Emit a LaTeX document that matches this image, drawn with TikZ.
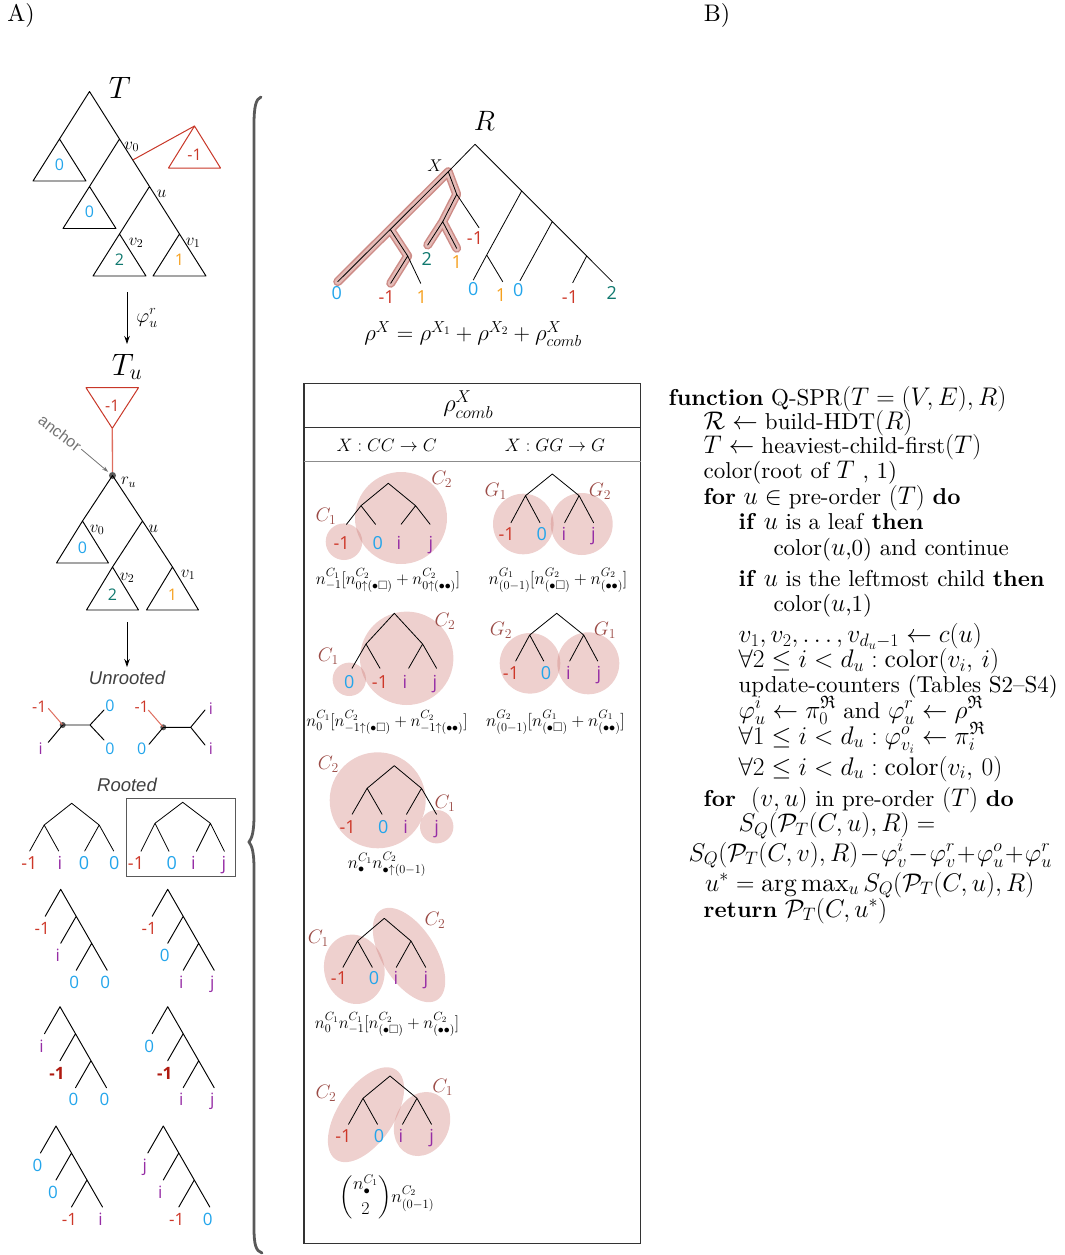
\RequirePackage{fix-cm}
\documentclass[tikz,border=0pt]{standalone}
\usepackage{amsmath,amssymb}
\usepackage{fontspec}
\setmainfont{lmroman10-regular.otf}[BoldFont=lmroman10-bold.otf,ItalicFont=lmroman10-italic.otf,BoldItalicFont=lmroman10-bolditalic.otf]
\newfontfamily\labfont{Open Sans}
\newfontfamily\helv{Liberation Sans}
\DeclareMathSizes{23}{25.5}{18}{13}
\usetikzlibrary{arrows.meta}
\definecolor{cneg}{RGB}{205,55,40}
\definecolor{cnegd}{RGB}{175,25,15}
\definecolor{czero}{RGB}{35,165,235}
\definecolor{cij}{RGB}{150,45,165}
\definecolor{cone}{RGB}{245,160,30}
\definecolor{ctwo}{RGB}{15,120,110}
\definecolor{cclab}{RGB}{155,75,70}
\definecolor{cblob}{RGB}{205,120,115}
\definecolor{chlo}{RGB}{205,140,135}
\definecolor{chli}{RGB}{228,186,182}
\definecolor{cred}{RGB}{200,55,40}
\definecolor{credl}{RGB}{222,110,95}
\newcommand\LMo{\textcolor{cneg}{-1}}
\newcommand\LMoB{\textcolor{cnegd}{\bfseries -1}}
\newcommand\LZe{\textcolor{czero}{0}}
\newcommand\LIi{\textcolor{cij}{i}}
\newcommand\LJj{\textcolor{cij}{j}}
\newcommand\LOne{\textcolor{cone}{1}}
\newcommand\LTwo{\textcolor{ctwo}{2}}
\tikzset{
  tl/.style={line width=0.95pt, line cap=round, line join=round},
  tt/.style={line width=0.8pt, line cap=round, line join=round},
  redl/.style={cred, line width=1pt, line join=round},
  L/.style={font=\labfont\fontsize{#1}{#1}\selectfont, anchor=base, yshift={-0.36*#1}, inner sep=0pt},
  M/.style={font=\fontsize{#1}{#1}\selectfont, inner sep=0pt},
  cl/.style={M=19.5, text=cclab},
  blob/.style={fill=cblob, fill opacity=0.35, draw=none},
  arr/.style={line width=0.9pt, -{Stealth[length=8pt,width=5.5pt]}},
  alg/.style={font=\fontsize{23}{25}\selectfont, anchor=base west, inner sep=0pt},
}
\newcounter{lbc}
\newcommand\lb[3]{\stepcounter{lbc}\node[L=#1] (lb\thelbc) at #2 {#3};}
\newcommand\btree[7]{%
  \path (#2,#3) coordinate (#1r) +(-#4,#5) coordinate (#1a) +(#4,#5) coordinate (#1b);
  \path (#1a) +(-#6,#7) coordinate (#1p) +(#6,#7) coordinate (#1q);
  \path (#1b) +(-#6,#7) coordinate (#1s) +(#6,#7) coordinate (#1t);
  \draw[tt] (#1p) -- (#1a) -- (#1r) -- (#1b) -- (#1t) (#1a) -- (#1q) (#1b) -- (#1s);}
\newcommand\cater[7]{%
  \path (#2,#3) coordinate (#1r) +(-15.5,27) coordinate (#1p) +(15.5,27) coordinate (#1m)
     +(0,54) coordinate (#1q) +(31,54) coordinate (#1n) +(15.5,81) coordinate (#1s) +(46.5,81) coordinate (#1t);
  \draw[tl] (#1p) -- (#1r) -- (#1m) -- (#1n) -- (#1t) (#1m) -- (#1q) (#1n) -- (#1s);
  \lb{17}{([shift={(-3,12.5)}]#1p)}{#4}
  \lb{17}{([shift={(-3,12.5)}]#1q)}{#5}
  \lb{17}{([shift={(-2,12)}]#1s)}{#6}
  \lb{17}{([shift={(-2,12)}]#1t)}{#7}}
\begin{document}
\begin{tikzpicture}[x=1pt,y=-1pt]
\useasboundingbox (0,0) rectangle (1065,1255);
\node[M=24] (labA) at (21,16) {A)};
\node[M=24] (labB) at (717,16) {B)};

% ---------- tree T
\node[M=31] (Tlab) at (120,88) {$T$};
\path (89.5,91.5) coordinate (Tr) (59.5,139) coordinate (Ta) (119.5,139) coordinate (Tv0)
  (89.5,186.5) coordinate (Tb) (149.5,186.5) coordinate (Tu) (119.5,234) coordinate (Tv2)
  (179.5,234) coordinate (Tv1) (132.8,160) coordinate (Tatt) (194.5,126) coordinate (Tred);
\draw[tl] (Ta) -- (Tr) -- (Tv0) -- (Tu) -- (Tv1) (Tv0) -- (Tb) (Tu) -- (Tv2);
\foreach \p in {Ta,Tb,Tv2,Tv1} \draw[tl] (\p) -- ++(-26.5,42) -- ++(53,0) -- cycle;
\draw[redl] (Tatt) -- (Tred);
\draw[redl] (Tred) -- ++(-26,42) -- ++(52,0) -- cycle;
\lb{16}{([shift={(0,29)}]Tred)}{\textcolor{cred}{-1}}
\lb{16}{([shift={(0,26)}]Ta)}{\LZe}
\lb{16}{([shift={(0,25.5)}]Tb)}{\LZe}
\lb{16}{([shift={(0,26)}]Tv2)}{\LTwo}
\lb{16}{([shift={(0,26)}]Tv1)}{\LOne}
\node[M=17] (tv0) at (131.7,146.7) {$v_0$};
\node[M=17] (tu) at (161.7,194) {$u$};
\node[M=17] (tv2) at (136,243) {$v_2$};
\node[M=17] (tv1) at (193,243) {$v_1$};

% ---------- arrow 1
\coordinate (a1s) at (127,292); \coordinate (a1e) at (127,344);
\draw[arr] (a1s) -- (a1e);
\node[M=20] (phi) at (147,318) {$\varphi_u^r$};

% ---------- tree T_u
\node[M=31] (Tulab) at (127,367) {$T_u$};
\path (86,387.7) coordinate (Rt1) (138.5,387.7) coordinate (Rt2) (112.3,428.3) coordinate (Rt3);
\draw[redl] (Rt1) -- (Rt2) -- (Rt3) -- cycle;
\lb{16}{(112.3,406)}{\textcolor{cred}{-1}}
\node[circle, fill=black!65, inner sep=0pt, minimum size=7pt] (ruD) at (112.5,475.5) {};
\draw[credl, line width=1.3pt] (Rt3) -- (ruD);
\path (82.5,521) coordinate (Ua) (142.5,521) coordinate (Uu) (112.5,567) coordinate (Uv2) (172.5,567) coordinate (Uv1);
\draw[tl] (Ua) -- (ruD.center) -- (Uu) -- (Uv1) (Uu) -- (Uv2);
\draw[tl] (Ua) -- ++(-26,42) -- ++(52,0) -- cycle;
\foreach \p in {Uv2,Uv1} \draw[tl] (\p) -- ++(-26,43) -- ++(52,0) -- cycle;
\lb{16}{([shift={(0,27)}]Ua)}{\LZe}
\lb{16}{([shift={(0,28)}]Uv2)}{\LTwo}
\lb{16}{([shift={(0,28)}]Uv1)}{\LOne}
\node[M=17] (uv0) at (97,530) {$v_0$};
\node[M=17] (uu) at (153.3,528.5) {$u$};
\node[M=17] (uv2) at (127,578) {$v_2$};
\node[M=17] (uv1) at (188,575) {$v_1$};
\node[M=17] (ru) at (128.5,482.5) {$r_u$};
\node[font=\helv\fontsize{16}{16}\selectfont, text=black!55, rotate=-37, inner sep=0pt] (anc) at (60,433) {anchor};
\draw[black!55, line width=0.8pt, -{Stealth[length=6pt,width=4pt]}, shorten <=2pt, shorten >=2pt] (anc.east) -- (ruD);

% ---------- arrow 2
\coordinate (a2s) at (127,622); \coordinate (a2e) at (127,667);
\draw[arr] (a2s) -- (a2e);

% ---------- unrooted
\node[font=\helv\itshape\fontsize{18.5}{18.5}\selectfont, text=black!75, inner sep=0pt] (unr) at (127,678) {Unrooted};
\node[circle, fill=black!65, inner sep=0pt, minimum size=6pt] (U1d) at (62.7,725) {};
\path (48.3,708.3) coordinate (U1a) (48.3,742.3) coordinate (U1b) (90,725) coordinate (U1c)
  (104,710) coordinate (U1e) (104,740) coordinate (U1f);
\draw[credl, line width=1pt] (U1d.center) -- (U1a);
\draw[tl] (U1b) -- (U1d.center) -- (U1c) -- (U1e) (U1c) -- (U1f);
\lb{16}{(39.3,706.7)}{\LMo}
\lb{16}{(40.7,748.3)}{\LIi}
\lb{16}{(110,706)}{\LZe}
\lb{16}{(110,748.3)}{\LZe}
\node[circle, fill=black!65, inner sep=0pt, minimum size=6pt] (U2d) at (163.3,727.3) {};
\path (148.3,710) coordinate (U2a) (149,744.3) coordinate (U2b) (190.7,727.3) coordinate (U2c)
  (205,710) coordinate (U2e) (205,745) coordinate (U2f);
\draw[credl, line width=1pt] (U2d.center) -- (U2a);
\draw[tl] (U2b) -- (U2d.center) -- (U2c) -- (U2e) (U2c) -- (U2f);
\lb{16}{(141.7,706.7)}{\LMo}
\lb{16}{(141.7,748.3)}{\LZe}
\lb{16}{(211,708.3)}{\LIi}
\lb{16}{(211,749)}{\LIi}

% ---------- rooted
\node[font=\helv\itshape\fontsize{18.5}{18.5}\selectfont, text=black!75, inner sep=0pt] (roo) at (127,785) {Rooted};
\btree{Q1}{71.7}{803.3}{27.5}{21.7}{14.5}{26}
\lb{18}{(29.3,863)}{\LMo}
\lb{18}{(60,863)}{\LIi}
\lb{18}{(84,863)}{\LZe}
\lb{18}{(114.3,863)}{\LZe}
\btree{Q2}{182.7}{802.3}{27.7}{21}{14}{28}
\lb{18}{(136,863)}{\LMo}
\lb{18}{(171.7,863)}{\LZe}
\lb{18}{(193.3,863)}{\LIi}
\lb{18}{(224,863)}{\LJj}
\draw[black!65, line width=1pt] (126.7,798.3) rectangle (235.7,876);

% ---------- caterpillars
\cater{A1}{60.7}{889.3}{\LMo}{\LIi}{\LZe}{\LZe}
\cater{A2}{167.7}{889.3}{\LMo}{\LZe}{\LIi}{\LJj}
\cater{B1}{60}{1006.7}{\LIi}{\LMoB}{\LZe}{\LZe}
\cater{B2}{167.7}{1006.7}{\LZe}{\LMoB}{\LIi}{\LJj}
\cater{C1}{56}{1126}{\LZe}{\LZe}{\LMo}{\LIi}
\cater{C2}{163.3}{1126}{\LJj}{\LIi}{\LMo}{\LZe}

% ---------- brace
\draw[black!65, line width=2.8pt, line cap=round]
  (261,97) .. controls (256,99) and (254,106) .. (254,125) -- (254,815)
  .. controls (254,832) and (252,838) .. (249,842)
  .. controls (252,846) and (254,852) .. (254,869) -- (254,1228)
  .. controls (254,1245) and (256,1251) .. (262,1253);

% ---------- tree R
\node[M=28] (Rlab) at (484.3,121) {$R$};
\node[M=17] (Xlab) at (435,166) {$X$};
\path (475,144.3) coordinate (Rr) (448.3,171.7) coordinate (RX) (390.7,230) coordinate (Ra)
  (337.7,281.7) coordinate (Rl0) (407.7,256) coordinate (Rb) (390.7,283.3) coordinate (Rlm1)
  (420.7,283.3) coordinate (Rl1) (456.7,194.3) coordinate (Rc) (479,227.7) coordinate (Rlm1b)
  (442.7,221.7) coordinate (Rd) (427.7,245) coordinate (Rl2) (456.7,248.3) coordinate (Rl1b)
  (521.7,191) coordinate (Re) (486.7,255) coordinate (Rf) (473.3,280) coordinate (Rl0b)
  (502.7,281.7) coordinate (Rl1c) (552.3,221.6) coordinate (Rg) (520,280.7) coordinate (Rl0c)
  (586.7,256) coordinate (Rh) (572.7,282.7) coordinate (Rlm1c) (612.3,281.7) coordinate (Rl2b);
\draw[chlo, line width=9pt, line cap=round, line join=round]
  (RX) -- (Rl0) (Ra) -- (Rb) -- (Rlm1) (RX) -- (Rc) -- (Rd) -- (Rl2) (Rd) -- (Rl1b);
\draw[chli, line width=6pt, line cap=round, line join=round]
  (RX) -- (Rl0) (Ra) -- (Rb) -- (Rlm1) (RX) -- (Rc) -- (Rd) -- (Rl2) (Rd) -- (Rl1b);
\draw[tt] (Rl0) -- (RX) -- (Rr) -- (Re) -- (Rg) -- (Rh) -- (Rl2b)
  (Ra) -- (Rb) -- (Rlm1) (Rb) -- (Rl1) (RX) -- (Rc) -- (Rlm1b) (Rc) -- (Rd) -- (Rl2) (Rd) -- (Rl1b)
  (Re) -- (Rf) -- (Rl0b) (Rf) -- (Rl1c) (Rg) -- (Rl0c) (Rh) -- (Rlm1c);
\lb{18}{(336.7,292.7)}{\LZe}
\lb{18}{(386.7,296.7)}{\LMo}
\lb{18}{(421.7,296.7)}{\LOne}
\lb{18}{(426.7,259.3)}{\LTwo}
\lb{18}{(456.7,261.7)}{\LOne}
\lb{18}{(475,238.3)}{\LMo}
\lb{18}{(473.3,289.3)}{\LZe}
\lb{18}{(501,295)}{\LOne}
\lb{18}{(518.3,290)}{\LZe}
\lb{18}{(570,296.7)}{\LMo}
\lb{18}{(611.7,293.3)}{\LTwo}
\node[M=22.8] (rhoeq) at (473,334) {$\rho^X=\rho^{X_1}+\rho^{X_2}+\rho^X_{comb}$};

% ---------- table
\draw[line width=1.3pt, black!80] (304,383.5) rectangle (640.5,1243.5);
\draw[line width=1.5pt, black!80] (304,427.7) -- (640.5,427.7);
\draw[line width=0.6pt, black!45] (304,461.7) -- (640.5,461.7);
\node[M=24.5] (hdr) at (468.3,405) {$\rho^X_{comb}$};
\node[M=18] (hcc) at (386.7,445) {$X:CC\rightarrow C$};
\node[M=18] (hgg) at (555,445) {$X:GG\rightarrow G$};

% row 1 left
\fill[blob] (401,518) circle (46);
\fill[blob] (344,541.7) circle (18.3);
\btree{P1}{388.3}{483.3}{27.3}{22.4}{14.5}{18.6}
\lb{18}{(341.7,543.5)}{\LMo}
\lb{18}{(377.7,543.5)}{\LZe}
\lb{18}{(399,543.5)}{\LIi}
\lb{18}{(431,543.5)}{\LJj}
\node[cl] (c1a) at (326,516.7) {$C_1$};
\node[cl] (c2a) at (441.7,479) {$C_2$};
\node[M=17, anchor=base] (f1l) at (388,584) {$n^{C_1}_{-1}[n^{C_2}_{0\uparrow(\bullet\square)}+n^{C_2}_{0\uparrow(\bullet\bullet)}]$};

% row 1 right
\fill[blob] (523.3,524) circle (30.3);
\fill[blob] (581.7,524) circle (31);
\btree{P2}{552.3}{474}{26.8}{21.7}{14.5}{27}
\lb{18}{(506.7,534.5)}{\LMo}
\lb{18}{(541.7,534.5)}{\LZe}
\lb{18}{(564,534.5)}{\LIi}
\lb{18}{(593.3,534.5)}{\LJj}
\node[cl] (g1a) at (495.7,491) {$G_1$};
\node[cl] (g2a) at (600,491) {$G_2$};
\node[M=17.5, anchor=base] (f1r) at (558,584) {$n^{G_1}_{(0-1)}[n^{G_2}_{(\bullet\square)}+n^{G_2}_{(\bullet\bullet)}]$};

% row 2 left
\fill[blob] (406.7,658.3) circle (46.7);
\fill[blob] (349.3,679.3) circle (16.7);
\btree{P3}{394.3}{613.3}{28.3}{30.7}{14}{24.3}
\lb{18}{(349.3,681.7)}{\LZe}
\lb{18}{(380,681.7)}{\LMo}
\lb{18}{(405,681.7)}{\LIi}
\lb{18}{(435,681.7)}{\LJj}
\node[cl] (c1b) at (328.3,656.7) {$C_1$};
\node[cl] (c2b) at (445,621.7) {$C_2$};
\node[M=17, anchor=base] (f2l) at (387,726) {$n^{C_1}_{0}[n^{C_2}_{-1\uparrow(\bullet\square)}+n^{C_2}_{-1\uparrow(\bullet\bullet)}]$};

% row 2 right
\fill[blob] (530,663.3) circle (30.3);
\fill[blob] (588.3,663.3) circle (31);
\btree{P4}{556.7}{613.3}{27}{21.7}{14}{26}
\lb{18}{(511,673.5)}{\LMo}
\lb{18}{(546,673.5)}{\LZe}
\lb{18}{(568.3,673.5)}{\LIi}
\lb{18}{(599,673.5)}{\LJj}
\node[cl] (g2b) at (501,630) {$G_2$};
\node[cl] (g1b) at (605,630) {$G_1$};
\node[M=17.5, anchor=base] (f2r) at (555.5,726) {$n^{G_2}_{(0-1)}[n^{G_1}_{(\bullet\square)}+n^{G_1}_{(\bullet\bullet)}]$};

% row 3
\fill[blob] (377.7,800.3) circle (48);
\fill[blob] (436.7,826.7) circle (16.7);
\btree{P5}{394.3}{765.7}{27.2}{22.6}{15}{26}
\lb{18}{(347.7,826.7)}{\LMo}
\lb{18}{(383.3,826.7)}{\LZe}
\lb{18}{(405.7,826.7)}{\LIi}
\lb{18}{(436.7,826.7)}{\LJj}
\node[cl] (c2c) at (328.3,764.3) {$C_2$};
\node[cl] (c1c) at (445,803.3) {$C_1$};
\node[M=17.5, anchor=base] (f3) at (387,868) {$n^{C_1}_{\bullet}n^{C_2}_{\bullet\uparrow(0-1)}$};

% row 4
\fill[blob, rotate around={15:(354.3,969.3)}] (354.3,969.3) ellipse [x radius=30, y radius=35];
\fill[blob, rotate around={-58:(409,955)}] (409,955) ellipse [x radius=53, y radius=27];
\btree{P6}{384.3}{918.3}{26.7}{22.7}{14.7}{26.3}
\lb{18}{(339,978.5)}{\LMo}
\lb{18}{(374,978.5)}{\LZe}
\lb{18}{(396,978.5)}{\LIi}
\lb{18}{(426,978.5)}{\LJj}
\node[cl] (c1d) at (318.3,938.3) {$C_1$};
\node[cl] (c2d) at (435,920) {$C_2$};
\node[M=17, anchor=base] (f4) at (387,1028) {$n^{C_1}_{0}n^{C_1}_{-1}[n^{C_2}_{(\bullet\square)}+n^{C_2}_{(\bullet\bullet)}]$};

% row 5
\fill[blob, rotate around={56:(366,1114.7)}] (366,1114.7) ellipse [x radius=54, y radius=28];
\fill[blob, rotate around={-25:(422,1124)}] (422,1124) ellipse [x radius=27, y radius=33];
\btree{P7}{390}{1076}{27}{22.3}{14.5}{26}
\lb{18}{(343.3,1136.5)}{\LMo}
\lb{18}{(379,1136.5)}{\LZe}
\lb{18}{(401,1136.5)}{\LIi}
\lb{18}{(431.7,1136.5)}{\LJj}
\node[cl] (c2e) at (326,1093.3) {$C_2$};
\node[cl] (c1e) at (442.7,1087.7) {$C_1$};
\node[M=18] (f5) at (387,1197) {$\dbinom{n^{C_1}_{\bullet}}{2}n^{C_2}_{(0-1)}$};

% ---------- algorithm
\node[alg] (l1) at (668.5,405) {\textbf{function} Q-SPR$(T=(V,E),R)$};
\node[alg] (l2) at (703.5,429) {$\mathcal{R}\leftarrow{}$build-HDT$(R)$};
\node[alg] (l3) at (703.5,453) {$T\leftarrow{}$heaviest-child-first$(T)$};
\node[alg] (l4) at (703.5,478.5) {color(root of $T$ , 1)};
\node[alg] (l5) at (703.5,504) {\textbf{for} $u\in{}$pre-order $(T)$ \textbf{do}};
\node[alg] (l6) at (738.5,529.5) {\textbf{if} $u$ is a leaf \textbf{then}};
\node[alg] (l7) at (773.3,555.5) {color($u$,0) and continue};
\node[alg] (l8) at (738.5,586) {\textbf{if} $u$ is the leftmost child \textbf{then}};
\node[alg] (l9) at (773.3,611.5) {color($u$,1)};
\node[alg] (l10) at (738.5,642.5) {$v_1,v_2,\ldots,v_{d_u-1}\leftarrow c(u)$};
\node[alg] (l11) at (738.5,667.5) {$\forall 2\leq i<d_u:\mathrm{color}(v_i,\,i)$};
\node[alg] (l12) at (738.5,692.5) {update-counters (Tables S2--S4)};
\node[alg] (l13) at (738.5,718) {$\varphi^i_u\leftarrow\pi^{\mathfrak{R}}_0$ and $\varphi^r_u\leftarrow\rho^{\mathfrak{R}}$};
\node[alg] (l14) at (738.5,744) {$\forall 1\leq i<d_u:\varphi^o_{v_i}\leftarrow\pi^{\mathfrak{R}}_i$};
\node[alg] (l15) at (738.5,775) {$\forall 2\leq i<d_u:\mathrm{color}(v_i,\,0)$};
\node[alg] (l16) at (703.5,806.5) {\textbf{for}\ \ $(v,u)$ in pre-order $(T)$ \textbf{do}};
\node[alg] (l17) at (738.5,831.5) {$S_Q(\mathcal{P}_T(C,u),R)={}$};
\node[alg] (l18) at (688.3,861) {$S_Q(\mathcal{P}_T(C,v),R)\!-\!\varphi^i_v\!-\!\varphi^r_v\!+\!\varphi^o_u\!+\!\varphi^r_u$};
\node[alg] (l19) at (705,891) {$u^*=\arg\max_u S_Q(\mathcal{P}_T(C,u),R)$};
\node[alg] (l20) at (703.5,917) {\textbf{return} $\mathcal{P}_T(C,u^*)$};
\end{tikzpicture}
\end{document}
